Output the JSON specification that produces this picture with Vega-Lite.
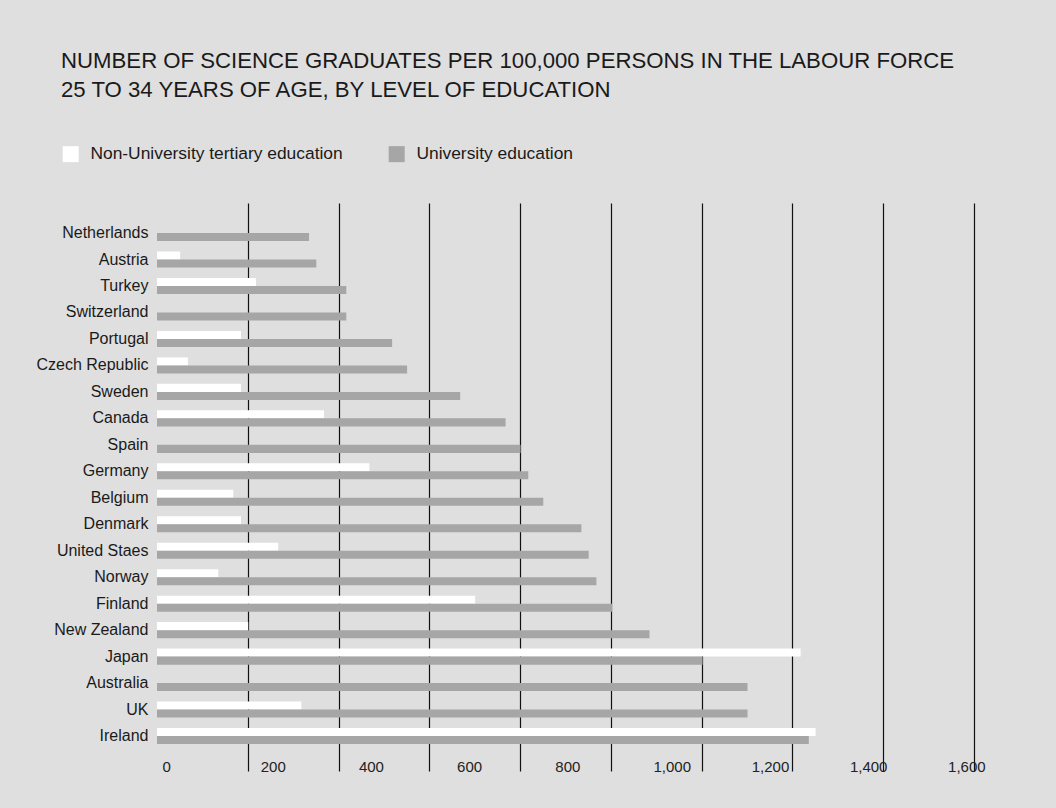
{
  "$schema": "https://vega.github.io/schema/vega-lite/v6.json",
  "autosize": {"type": "none"},
  "width": 817,
  "height": 568,
  "padding": {"left": 157, "top": 203, "right": 82, "bottom": 37},
  "background": "#dfdfdf",
  "config": {
    "view": {"stroke": null},
    "font": "Liberation Sans"
  },
  "title": {
    "text": ["NUMBER OF SCIENCE GRADUATES PER 100,000 PERSONS IN THE LABOUR FORCE", "25 TO 34 YEARS OF AGE, BY LEVEL OF EDUCATION"],
    "anchor": "start",
    "frame": "group",
    "dx": -96,
    "offset": 44,
    "font": "Liberation Sans",
    "fontSize": 22.2,
    "fontWeight": "normal",
    "color": "#1a1a1a",
    "lineHeight": 29.3
  },
  "data": {
    "values": [
      {"country": "Netherlands", "type": "Non-University tertiary education", "value": 0},
      {"country": "Netherlands", "type": "University education", "value": 335},
      {"country": "Austria", "type": "Non-University tertiary education", "value": 51},
      {"country": "Austria", "type": "University education", "value": 351},
      {"country": "Turkey", "type": "Non-University tertiary education", "value": 218},
      {"country": "Turkey", "type": "University education", "value": 417},
      {"country": "Switzerland", "type": "Non-University tertiary education", "value": 0},
      {"country": "Switzerland", "type": "University education", "value": 417},
      {"country": "Portugal", "type": "Non-University tertiary education", "value": 185},
      {"country": "Portugal", "type": "University education", "value": 518},
      {"country": "Czech Republic", "type": "Non-University tertiary education", "value": 68},
      {"country": "Czech Republic", "type": "University education", "value": 551},
      {"country": "Sweden", "type": "Non-University tertiary education", "value": 185},
      {"country": "Sweden", "type": "University education", "value": 668},
      {"country": "Canada", "type": "Non-University tertiary education", "value": 368},
      {"country": "Canada", "type": "University education", "value": 768},
      {"country": "Spain", "type": "Non-University tertiary education", "value": 0},
      {"country": "Spain", "type": "University education", "value": 801},
      {"country": "Germany", "type": "Non-University tertiary education", "value": 468},
      {"country": "Germany", "type": "University education", "value": 818},
      {"country": "Belgium", "type": "Non-University tertiary education", "value": 168},
      {"country": "Belgium", "type": "University education", "value": 851},
      {"country": "Denmark", "type": "Non-University tertiary education", "value": 185},
      {"country": "Denmark", "type": "University education", "value": 935},
      {"country": "United Staes", "type": "Non-University tertiary education", "value": 267},
      {"country": "United Staes", "type": "University education", "value": 951},
      {"country": "Norway", "type": "Non-University tertiary education", "value": 135},
      {"country": "Norway", "type": "University education", "value": 968},
      {"country": "Finland", "type": "Non-University tertiary education", "value": 701},
      {"country": "Finland", "type": "University education", "value": 1003},
      {"country": "New Zealand", "type": "Non-University tertiary education", "value": 201},
      {"country": "New Zealand", "type": "University education", "value": 1085},
      {"country": "Japan", "type": "Non-University tertiary education", "value": 1418},
      {"country": "Japan", "type": "University education", "value": 1202},
      {"country": "Australia", "type": "Non-University tertiary education", "value": 0},
      {"country": "Australia", "type": "University education", "value": 1301},
      {"country": "UK", "type": "Non-University tertiary education", "value": 318},
      {"country": "UK", "type": "University education", "value": 1301},
      {"country": "Ireland", "type": "Non-University tertiary education", "value": 1451},
      {"country": "Ireland", "type": "University education", "value": 1436}
    ]
  },
  "encoding": {
    "y": {
      "field": "country",
      "type": "nominal",
      "sort": null,
      "scale": {"paddingInner": 0.393, "paddingOuter": 0.925, "align": 0.45},
      "axis": {
        "title": null,
        "domain": false,
        "ticks": false,
        "tickSize": 0,
        "labelPadding": 9,
        "labelFont": "Liberation Sans",
        "labelFontSize": 16,
        "labelColor": "#1a1a1a"
      }
    }
  },
  "layer": [
    {
      "mark": {"type": "bar"},
      "encoding": {
        "x": {
          "field": "value",
          "type": "quantitative",
          "scale": {"domain": [0, 1800], "nice": false, "zero": true},
          "axis": {
            "orient": "top",
            "title": null,
            "labels": false,
            "ticks": false,
            "tickSize": 0,
            "domain": false,
            "grid": true,
            "gridColor": "#111111",
            "gridWidth": 1.2,
            "values": [200, 400, 600, 800, 1000, 1200, 1400, 1600, 1800]
          }
        },
        "yOffset": {
          "field": "type",
          "type": "nominal",
          "sort": ["Non-University tertiary education", "University education"],
          "scale": {"paddingInner": 0, "paddingOuter": 0}
        },
        "color": {
          "field": "type",
          "type": "nominal",
          "scale": {
            "domain": ["Non-University tertiary education", "University education"],
            "range": ["#ffffff", "#a6a6a6"]
          },
          "legend": {
            "title": null,
            "orient": "none",
            "direction": "horizontal",
            "legendX": -95,
            "legendY": -58,
            "padding": 0,
            "symbolType": "square",
            "symbolSize": 256,
            "symbolStrokeWidth": 0,
            "symbolOpacity": 1,
            "labelFont": "Liberation Sans",
            "labelFontSize": 17.4,
            "labelColor": "#1a1a1a",
            "labelOffset": 11,
            "columnPadding": 45,
            "labelLimit": 400
          }
        }
      }
    },
    {
      "mark": {"type": "bar", "opacity": 0},
      "encoding": {
        "x": {
          "field": "value",
          "type": "quantitative",
          "scale": {"domain": [0, 1664], "nice": false, "zero": true},
          "axis": {
            "orient": "bottom",
            "title": null,
            "grid": false,
            "ticks": false,
            "tickSize": 0,
            "domain": false,
            "values": [0, 200, 400, 600, 800, 1000, 1200, 1400, 1600],
            "format": ",.0f",
            "labelAlign": "left",
            "labelBaseline": "alphabetic",
            "labelOffset": 5,
            "labelPadding": 0,
            "labelFont": "Liberation Sans",
            "labelFontSize": 15,
            "labelColor": "#222222",
            "labelFlush": false,
            "labelOverlap": false
          }
        }
      }
    }
  ],
  "resolve": {"scale": {"x": "independent"}, "axis": {"x": "independent"}}
}
